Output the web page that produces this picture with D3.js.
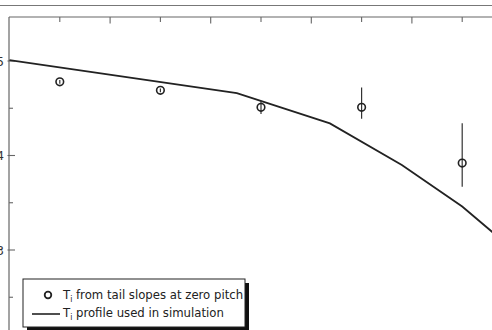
<!DOCTYPE html>
<html>
<head>
<meta charset="utf-8">
<script src="https://cdn.jsdelivr.net/npm/d3@7"></script>
<style>
  body { margin: 0; background: #fff; }
  svg { display: block; }
  text { font-family: "Liberation Sans Narrow", "DejaVu Sans Condensed", "Roboto", sans-serif; font-stretch: condensed; }
</style>
</head>
<body>
<div id="chart"></div>
<script>
// measured points (position along the profile, T_i)
var pointX = [1, 3, 5, 7, 9];
var pointY = [4.78, 4.69, 4.51, 4.51, 3.92];
var errLo  = [4.76, 4.67, 4.44, 4.39, 3.67];
var errHi  = [4.80, 4.71, 4.58, 4.72, 4.34];

// profile used in simulation
var profX = [0, 4.52, 6.37, 7.80, 9.0, 10.0];
var profY = [5.01, 4.66, 4.34, 3.90, 3.46, 3.01];

var yTicks = [2.5, 3, 3.5, 4, 4.5, 5];
var yLabels = [3, 4, 5];
var xTicks = [1, 2, 3, 4, 5, 6, 7, 8, 9];

var legendLabels = ["from tail slopes at zero pitch", "profile used in simulation"];

var width = 492, height = 330;
var margin = {left: 9, top: 17};

var svg = d3.select("#chart").append("svg")
  .attr("width", width).attr("height", height);

// scales
var x = d3.scaleLinear().domain([0, 1]).range([9.5, 59.8]);
var y = d3.scaleLinear().domain([3, 5]).range([250, 61]);

// line left over from the panel above
svg.append("line")
  .attr("x1", 0).attr("x2", width)
  .attr("y1", 5.5).attr("y2", 5.5)
  .attr("stroke", "#777").attr("stroke-width", 1.2);

// frame: top and left
svg.append("line")
  .attr("x1", margin.left).attr("x2", width)
  .attr("y1", margin.top).attr("y2", margin.top)
  .attr("stroke", "#666").attr("stroke-width", 1.2);
svg.append("line")
  .attr("x1", margin.left).attr("x2", margin.left)
  .attr("y1", margin.top).attr("y2", height)
  .attr("stroke", "#666").attr("stroke-width", 1.2);

// top ticks (pointing in)
svg.append("g").selectAll("line").data(xTicks).enter().append("line")
  .attr("x1", function(d){ return x(d); })
  .attr("x2", function(d){ return x(d); })
  .attr("y1", margin.top)
  .attr("y2", function(d){ return margin.top + (d % 2 === 0 ? 6.5 : 5); })
  .attr("stroke", "#666").attr("stroke-width", 1.1);

// left ticks
svg.append("g").selectAll("line").data(yTicks).enter().append("line")
  .attr("x1", function(d){ return yLabels.indexOf(d) >= 0 ? margin.left - 1.5 : margin.left; })
  .attr("x2", function(d){ return yLabels.indexOf(d) >= 0 ? margin.left + 6 : margin.left + 4; })
  .attr("y1", function(d){ return y(d); })
  .attr("y2", function(d){ return y(d); })
  .attr("stroke", "#666").attr("stroke-width", 1.1);

svg.append("g").selectAll("text").data(yLabels).enter().append("text")
  .attr("x", 4)
  .attr("y", function(d){ return y(d) + 4.5; })
  .attr("text-anchor", "end")
  .attr("font-size", 13)
  .attr("fill", "#333")
  .text(function(d){ return d; });

// profile line
var line = d3.line()
  .x(function(d){ return x(d[0]); })
  .y(function(d){ return y(d[1]); });

svg.append("path")
  .datum(d3.zip(profX, profY))
  .attr("d", line)
  .attr("fill", "none")
  .attr("stroke", "#222")
  .attr("stroke-width", 1.8);

// error bars
var pts = d3.range(pointX.length);
svg.append("g").selectAll("line").data(pts).enter().append("line")
  .attr("x1", function(i){ return x(pointX[i]); })
  .attr("x2", function(i){ return x(pointX[i]); })
  .attr("y1", function(i){ return y(errHi[i]); })
  .attr("y2", function(i){ return y(errLo[i]); })
  .attr("stroke", "#333").attr("stroke-width", 1.2);

// circles
svg.append("g").selectAll("circle").data(pts).enter().append("circle")
  .attr("cx", function(i){ return x(pointX[i]); })
  .attr("cy", function(i){ return y(pointY[i]); })
  .attr("r", 3.8)
  .attr("fill", "none")
  .attr("stroke", "#222")
  .attr("stroke-width", 1.6);

// legend with drop shadow
var lg = svg.append("g").attr("transform", "translate(23,279)");
lg.append("rect").attr("x", 4).attr("y", 4).attr("width", 222).attr("height", 48).attr("fill", "#111");
lg.append("rect").attr("x", 0).attr("y", 0).attr("width", 222).attr("height", 48)
  .attr("fill", "#fff").attr("stroke", "#222").attr("stroke-width", 1);

lg.append("circle").attr("cx", 25).attr("cy", 16).attr("r", 3.3)
  .attr("fill", "none").attr("stroke", "#222").attr("stroke-width", 1.8);
lg.append("line").attr("x1", 9).attr("x2", 37).attr("y1", 35).attr("y2", 35)
  .attr("stroke", "#222").attr("stroke-width", 1.6);

legendLabels.forEach(function(lab, i){
  var t = lg.append("text")
    .attr("x", 40)
    .attr("y", 20 + i * 17.5)
    .attr("font-size", 13)
    .attr("fill", "#222");
  t.append("tspan").text("T");
  t.append("tspan").attr("font-size", 8.5).attr("dy", 3).text("i");
  t.append("tspan").attr("dy", -3).text(" " + lab);
});
</script>
</body>
</html>
